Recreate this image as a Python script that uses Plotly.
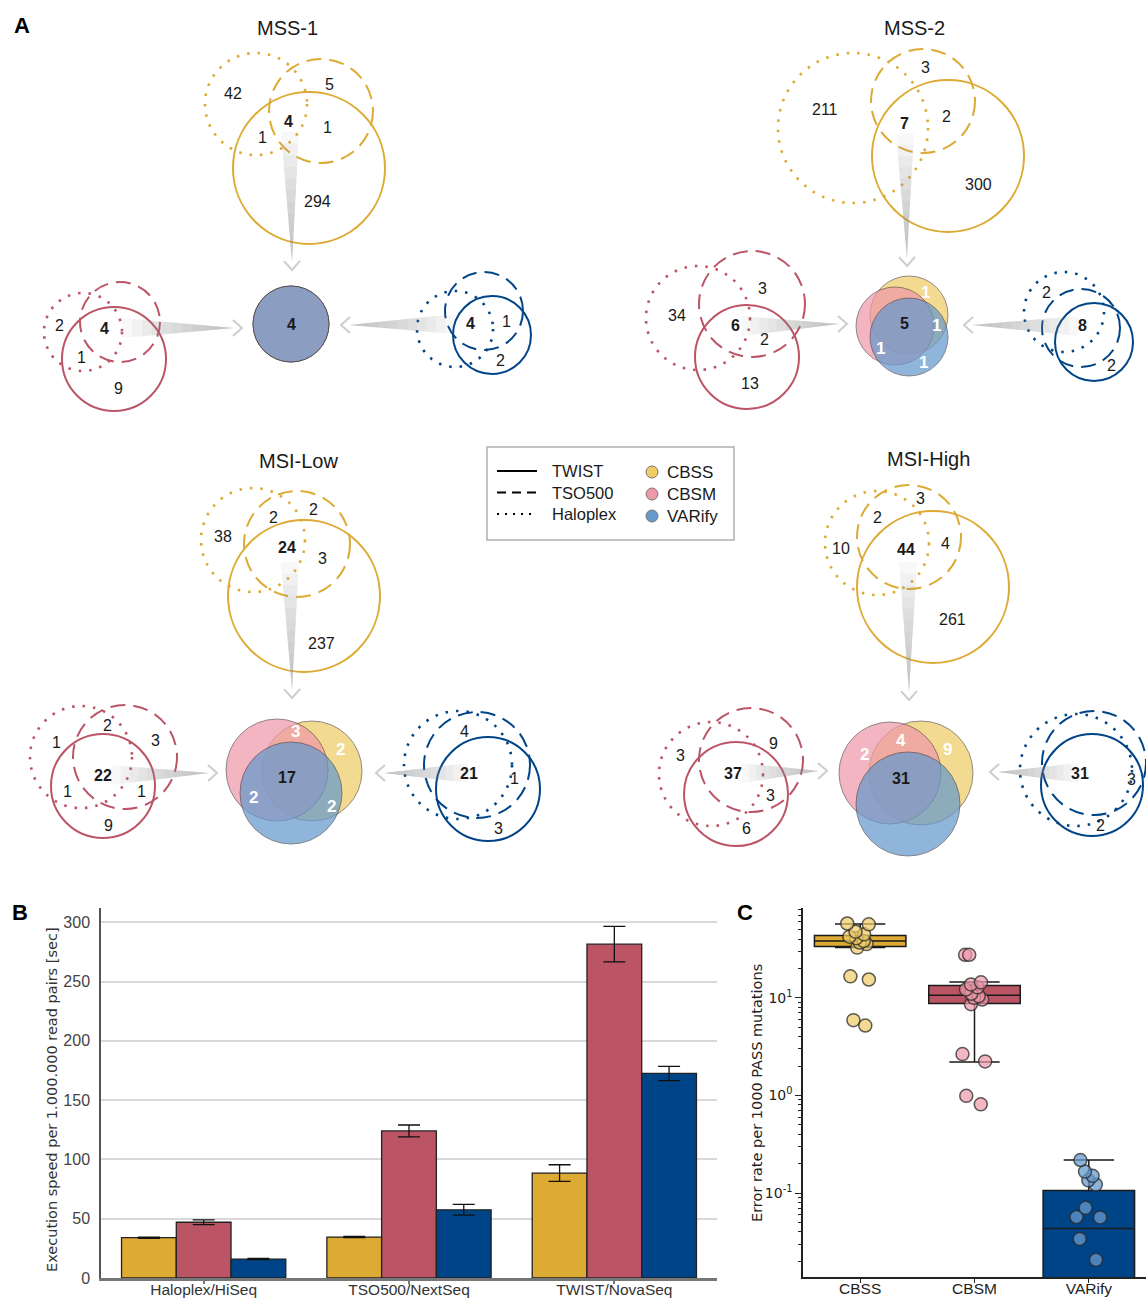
import plotly.graph_objects as go

W, H = 1146, 1300

# ======================= DATA =======================
samples = ["MSS-1", "MSS-2", "MSI-Low", "MSI-High"]
tools = ["CBSS", "CBSM", "VARify"]
protocols = ["TWIST", "TSO500", "Haloplex"]

# Venn region counts (panel A), per sample and caller
mss1_cbss = [42, 5, 1, 4, 1, 294]
mss1_cbsm = [2, 4, 1, 9]
mss1_varify = [4, 1, 2]
mss1_common = [4]

mss2_cbss = [211, 3, 7, 2, 300]
mss2_cbsm = [34, 3, 6, 2, 13]
mss2_varify = [2, 8, 2]
mss2_common = [5, 1, 1, 1, 1]

msil_cbss = [38, 2, 2, 24, 3, 237]
msil_cbsm = [1, 2, 3, 22, 1, 1, 9]
msil_varify = [4, 21, 1, 3]
msil_common = [17, 3, 2, 2, 2]

msih_cbss = [10, 2, 3, 44, 4, 261]
msih_cbsm = [3, 9, 37, 3, 6]
msih_varify = [31, 3, 2]
msih_common = [31, 2, 4, 9]

# Panel B: execution speed per 1.000.000 read pairs [sec]
platforms = ["Haloplex/HiSeq", "TSO500/NextSeq", "TWIST/NovaSeq"]
speed_cbss = [34, 34.5, 88.5]
speed_cbss_err = [0.5, 0.5, 7]
speed_cbsm = [47, 124, 281.5]
speed_cbsm_err = [2, 5, 15]
speed_varify = [16, 57.5, 172.5]
speed_varify_err = [0.5, 4.5, 6]

# Panel C: error rate per 1000 PASS mutations
err_cbss = [57.7, 56.6, 47.6, 44.7, 42.3, 40.8, 38.3, 36.8, 35.5, 32.7, 16.6, 15.4, 5.9, 5.2]
err_cbsm = [27.6, 27.6, 14.4, 13.7, 12.8, 12.2, 11.0, 10.4, 10.0, 9.6, 8.6, 2.65, 2.23, 0.99, 0.81]
err_varify = [0.218, 0.166, 0.15, 0.135, 0.122, 0.0705, 0.0568, 0.0563, 0.0339, 0.0207]
box_q1 = [33.5, 8.75, 0.005]
box_median = [38.3, 10.6, 0.0434]
box_q3 = [43.4, 13.4, 0.106]
box_lowerfence = [32.7, 2.2, 0.005]
box_upperfence = [57.0, 14.5, 0.218]

# ======================= STYLE =======================
YEL, RED, BLU = "#DDAA33", "#BB5566", "#004488"
YEL_L, RED_L, BLU_L = "#EECC66", "#EE99AA", "#6699CC"
FONT = "Liberation Sans, Arial, sans-serif"
DEJAVU = "DejaVu Sans, sans-serif"
DASH = {"solid": "solid", "dash": "15px,8px", "dot": "2.5px,8px"}

fig = go.Figure()
shapes = []
annos = []


def px(x):
    return x / W


def py(y):
    return 1 - y / H


def circle(cx, cy, r, color, style, width=2.0, fill=None, opacity=1.0):
    wd = 2.6 if style == "dot" else width
    d = dict(type="circle", xref="paper", yref="paper",
             x0=px(cx - r), x1=px(cx + r), y0=py(cy + r), y1=py(cy - r),
             line=dict(color=color, width=wd, dash=DASH.get(style, style)),
             layer="above")
    if fill:
        d["fillcolor"] = fill
        d["opacity"] = opacity
    shapes.append(d)


def text(x, y, s, size=16, bold=False, color="#1a1a1a", family=FONT, **kw):
    annos.append(dict(x=px(x), y=py(y), xref="paper", yref="paper", showarrow=False,
                      text=f"<b>{s}</b>" if bold else str(s),
                      font=dict(size=size, color=color, family=family),
                      xanchor=kw.get("xanchor", "center"), yanchor=kw.get("yanchor", "middle"),
                      textangle=kw.get("textangle", 0)))


def wedge(x0, y0, x1, y1, hw, gap=8):
    import math
    dx, dy = x1 - x0, y1 - y0
    L = math.hypot(dx, dy)
    ux, uy = dx / L, dy / L
    nx, ny = -uy, ux
    n = 10
    for i in range(n):
        t = i / n * 0.9
        sx, sy = x0 + dx * t, y0 + dy * t
        h = hw * (1 - t)
        path = (f"M {px(sx + nx * h)} {py(sy + ny * h)} L {px(sx - nx * h)} {py(sy - ny * h)} "
                f"L {px(x1)} {py(y1)} Z")
        shapes.append(dict(type="path", xref="paper", yref="paper", path=path,
                           fillcolor="rgba(150,150,150,0.062)", line=dict(width=0), layer="above"))
    tx, ty = x1 + ux * gap, y1 + uy * gap
    a1 = (tx - ux * 9 + nx * 8, ty - uy * 9 + ny * 8)
    a2 = (tx - ux * 9 - nx * 8, ty - uy * 9 - ny * 8)
    path = f"M {px(a1[0])} {py(a1[1])} L {px(tx)} {py(ty)} L {px(a2[0])} {py(a2[1])}"
    shapes.append(dict(type="path", xref="paper", yref="paper", path=path,
                       line=dict(color="rgba(200,200,200,0.9)", width=2), layer="above"))


def venn_outline(circles, color):
    for cx, cy, r, st in circles:
        circle(cx, cy, r, color, st)


def venn_labels(counts, positions, bold_idx, white=False):
    for i, (c, (x, y)) in enumerate(zip(counts, positions)):
        if white and i != bold_idx:
            text(x, y, c, size=17, bold=True, color="white")
        else:
            text(x, y, c, size=16, bold=(i == bold_idx))


def venn_fill(ycirc, rcirc, bcirc):
    for (cx, cy, r), col in ((ycirc, YEL_L), (rcirc, RED_L), (bcirc, BLU_L)):
        circle(cx, cy, r, "rgba(70,60,60,0.8)", "solid", width=1, fill=col, opacity=0.72)


# ======================= PANEL A =======================
text(22, 25, "A", size=22, bold=True, color="black")

# ---- MSS-1
text(287, 28, samples[0], size=20)
venn_outline([(309, 168, 76, "solid"), (321, 111, 52, "dash"), (256, 104, 51, "dot")], YEL)
venn_outline([(114, 359, 52, "solid"), (120, 322, 40, "dash"), (83, 332, 39, "dot")], RED)
venn_outline([(492, 335, 39, "solid"), (484, 311, 39, "dash"), (455, 329, 38, "dot")], BLU)
venn_fill((291, 324, 38), (291, 324, 38), (291, 324, 38))
wedge(290, 132, 292, 262, 9)
wedge(122, 328, 234, 328, 10)
wedge(455, 324, 349, 325, 10)
venn_labels(mss1_cbss, [(233, 93), (329, 84), (262, 137), (288, 122), (327, 127), (317, 202)], 3)
venn_labels(mss1_cbsm, [(59, 326), (104, 328), (81, 358), (118, 388)], 1)
venn_labels(mss1_varify, [(470, 323), (506, 322), (500, 360)], 0)
venn_labels(mss1_common, [(291, 324)], 0)

# ---- MSS-2
text(914, 28, samples[1], size=20)
venn_outline([(948, 156, 76, "solid"), (923, 101, 52, "dash"), (853, 128, 75, "dot")], YEL)
venn_outline([(747, 357, 52, "solid"), (752, 304, 53, "dash"), (698, 318, 52, "dot")], RED)
venn_outline([(1094, 342, 39, "solid"), (1081, 328, 39, "dash"), (1064, 312, 40, "dot")], BLU)
venn_fill((909, 315, 39), (895, 326, 39), (909, 337, 39))
wedge(905, 134, 907, 258, 9)
wedge(742, 326, 839, 324, 10)
wedge(1078, 326, 972, 325, 10)
venn_labels(mss2_cbss, [(825, 109), (925, 67), (904, 123), (946, 117), (978, 185)], 2)
venn_labels(mss2_cbsm, [(677, 315), (762, 288), (735, 326), (764, 339), (750, 383)], 2)
venn_labels(mss2_varify, [(1046, 292), (1082, 326), (1111, 366)], 1)
venn_labels(mss2_common, [(904, 323), (925, 292), (936, 325), (880, 348), (923, 362)], 0, white=True)

# ---- MSI-Low
text(298, 461, samples[2], size=20)
venn_outline([(304, 596, 76, "solid"), (297, 544, 53, "dash"), (253, 540, 52, "dot")], YEL)
venn_outline([(103, 786, 52, "solid"), (125, 757, 52, "dash"), (81, 757, 51, "dot")], RED)
venn_outline([(488, 789, 52, "solid"), (477, 765, 53, "dash"), (458, 765, 54, "dot")], BLU)
venn_fill((312, 771, 50), (277, 770, 51), (291, 793, 51))
wedge(290, 562, 292, 690, 9)
wedge(112, 775, 209, 773, 10)
wedge(468, 773, 384, 773, 10)
venn_labels(msil_cbss, [(223, 536), (273, 517), (313, 510), (287, 547), (323, 559), (321, 643)], 3)
venn_labels(msil_cbsm, [(56, 742), (107, 725), (155, 741), (103, 775), (67, 791), (141, 791), (108, 825)], 3)
venn_labels(msil_varify, [(464, 731), (469, 773), (514, 778), (498, 828)], 1)
venn_labels(msil_common, [(287, 777), (295, 732), (340, 749), (253, 797), (331, 806)], 0, white=True)

# ---- MSI-High
text(928, 459, samples[3], size=20)
venn_outline([(933, 587, 76, "solid"), (909, 537, 52, "dash"), (877, 543, 52, "dot")], YEL)
venn_outline([(736, 794, 52, "solid"), (751, 760, 52, "dash"), (711, 774, 52, "dot")], RED)
venn_outline([(1092, 785, 51, "solid"), (1094, 763, 52, "dash"), (1076, 770, 56, "dot")], BLU)
venn_fill((921, 773, 52), (890, 773, 51), (908, 804, 52))
wedge(908, 562, 909, 692, 9)
wedge(742, 773, 819, 771, 10)
wedge(1078, 773, 998, 772, 10)
venn_labels(msih_cbss, [(841, 548), (877, 517), (920, 498), (906, 549), (945, 543), (952, 619)], 3)
venn_labels(msih_cbsm, [(680, 755), (773, 743), (733, 773), (770, 795), (746, 828)], 2)
venn_labels(msih_varify, [(1080, 773), (1131, 779), (1100, 825)], 0)
venn_labels(msih_common, [(901, 778), (864, 754), (901, 740), (947, 749)], 0, white=True)

# ---- legend box
shapes.append(dict(type="rect", xref="paper", yref="paper", x0=px(487), x1=px(734), y0=py(540), y1=py(447),
                   line=dict(color="#b0b0b0", width=1.5), fillcolor="white", layer="above"))
for i, (lab, st) in enumerate(zip(protocols, ["solid", "9px,6px", "2px,6px"])):
    yy = 471 + i * 21.5
    shapes.append(dict(type="line", xref="paper", yref="paper", x0=px(497), x1=px(537), y0=py(yy), y1=py(yy),
                       line=dict(color="black", width=2, dash=st), layer="above"))
    text(550, yy, lab, size=16.5, xanchor="left")
for i, (lab, col) in enumerate(zip(tools, [YEL_L, RED_L, BLU_L])):
    yy = 472 + i * 22
    circle(652, yy, 6, "#777", "solid", width=1, fill=col, opacity=1)
    text(665, yy, lab, size=17, xanchor="left")

# ======================= PANEL B =======================
text(20, 912, "B", size=22, bold=True, color="black")
for name, vals, errs, col in [(tools[0], speed_cbss, speed_cbss_err, YEL),
                              (tools[1], speed_cbsm, speed_cbsm_err, RED),
                              (tools[2], speed_varify, speed_varify_err, BLU)]:
    fig.add_trace(go.Bar(x=platforms, y=vals, name=name, marker=dict(color=col, line=dict(color="#222", width=1.3)),
                         error_y=dict(type="data", array=errs, color="#111", thickness=1.3, width=11),
                         xaxis="x", yaxis="y"))
text(52, 1100, "Execution speed per 1.000.000 read pairs [sec]", size=14.5, color="#333",
     family=DEJAVU, textangle=-90)

# ======================= PANEL C =======================
text(745, 912, "C", size=22, bold=True, color="black")
for i, (name, col) in enumerate(zip(tools, [YEL, RED, BLU])):
    fig.add_trace(go.Box(x=[name], q1=[box_q1[i]], median=[box_median[i]], q3=[box_q3[i]],
                         lowerfence=[box_lowerfence[i]], upperfence=[box_upperfence[i]],
                         fillcolor=col, line=dict(color="#1a1a1a", width=1.5), width=0.8, whiskerwidth=0.55,
                         boxpoints=False, xaxis="x2", yaxis="y2", hoverinfo="skip"))
for name, pts, col in [(tools[0], err_cbss, "rgba(238,204,102,0.7)"),
                       (tools[1], err_cbsm, "rgba(238,153,170,0.7)"),
                       (tools[2], err_varify, "rgba(102,153,204,0.75)")]:
    fig.add_trace(go.Box(x=[name] * len(pts), y=pts, boxpoints="all", jitter=0.32, pointpos=0,
                         fillcolor="rgba(0,0,0,0)", line=dict(width=0, color="rgba(0,0,0,0)"), width=0.8,
                         marker=dict(size=13, color=col, line=dict(color="rgba(40,40,40,0.75)", width=1.5)),
                         xaxis="x2", yaxis="y2"))
text(757, 1093, "Error rate per 1000 PASS mutations", size=14.5, color="#222", family=DEJAVU, textangle=-90)

minor_vals = [m * 10 ** e for e in (-2, -1, 0, 1) for m in range(2, 10)]

fig.update_layout(
    width=W, height=H, margin=dict(l=0, r=0, t=0, b=0, pad=0, autoexpand=False),
    paper_bgcolor="white", plot_bgcolor="white", showlegend=False,
    barmode="group", bargap=0.2, bargroupgap=0, boxmode="overlay",
    shapes=shapes, annotations=annos,
    xaxis=dict(domain=[px(101), px(717)], anchor="y", showline=True, linecolor="#777", linewidth=2.5,
               ticks="outside", ticklen=3, tickcolor="#777", tickwidth=1.5, automargin=False,
               ticklabelstandoff=-7,
               tickfont=dict(family=FONT, size=15.5, color="#333"), showgrid=False, zeroline=False),
    yaxis=dict(domain=[py(1278), py(908)], anchor="x", range=[0, 312], tickvals=[0, 50, 100, 150, 200, 250, 300],
               showline=True, linecolor="#555", linewidth=1.5, showgrid=True, gridcolor="#d9d9d9", gridwidth=1.5,
               ticks="", tickfont=dict(family=FONT, size=16, color="#444"), zeroline=False, automargin=False,
               ticklabelstandoff=6),
    xaxis2=dict(domain=[px(803), 1.0], anchor="y2", showline=True, linecolor="#222", linewidth=1.5,
                ticks="outside", ticklen=4, tickcolor="#222", tickwidth=1.3, categoryorder="array", categoryarray=tools,
                range=[-0.5, 2.5], automargin=False, ticklabelstandoff=-7,
                tickfont=dict(family=FONT, size=15.5, color="#222"), showgrid=False, zeroline=False),
    yaxis2=dict(domain=[py(1277), py(908)], anchor="x2", type="log", range=[-1.86, 1.92], automargin=False,
                tickvals=[0.1, 1, 10], ticktext=["10<sup>-1</sup>", "10<sup>0</sup>", "10<sup>1</sup>"],
                showline=True, linecolor="#222", linewidth=1.5, ticks="outside", ticklen=6, tickcolor="#222",
                tickwidth=1.3, minor=dict(tickmode="array", tickvals=minor_vals, ticks="outside", ticklen=3.5,
                                          tickcolor="#222", showgrid=False),
                tickfont=dict(family=DEJAVU, size=14, color="#222"), showgrid=False, zeroline=False),
)

fig.write_html("out.html", config={"displayModeBar": False},
               post_script="document.body.style.margin='0';document.body.style.overflow='hidden';")
